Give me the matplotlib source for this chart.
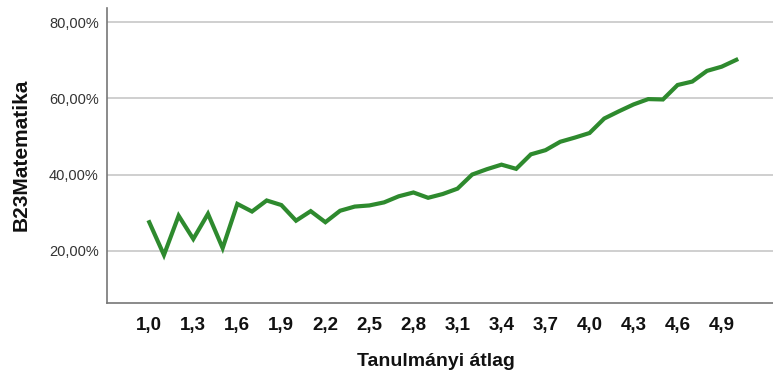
import numpy as np
import matplotlib
matplotlib.use("Agg")
import matplotlib.pyplot as plt
from matplotlib.ticker import FuncFormatter, FixedLocator

plt.rcParams["font.family"] = ["Liberation Sans", "DejaVu Sans"]

# Tanulmányi átlag 1,0 .. 5,0 in 0,1 steps
atlag = [f"{v / 10:.1f}".replace(".", ",") for v in range(10, 51)]
# share of correct answers (%)
matek = [27.5, 18.9, 29.2, 23.1, 29.7, 20.7, 32.3, 30.3, 33.2, 32.0,
         27.9, 30.4, 27.5, 30.5, 31.6, 31.9, 32.7, 34.3, 35.3, 33.9,
         34.9, 36.3, 40.0, 41.4, 42.6, 41.5, 45.3, 46.4, 48.6, 49.7,
         50.9, 54.7, 56.6, 58.4, 59.8, 59.7, 63.5, 64.4, 67.2, 68.3,
         70.1]
y_ticks = [20, 40, 60, 80]

W, H = 773, 376
fig = plt.figure(figsize=(W / 100, H / 100), dpi=100)
ax = fig.add_axes([107 / W, 1 - 303 / H, 1 - 107 / W, (303 - 8) / H])

x = np.arange(len(matek))
ax.plot(x, matek, color="#2e8a2e", linewidth=3.0, solid_joinstyle="miter",
        zorder=3)

ax.set_xlim(-2.88, 42.5)
ax.set_ylim(6.3, 83.7)

ax.xaxis.set_major_locator(FixedLocator(x[::3]))
ax.set_xticklabels(atlag[::3], fontsize=13.5, fontweight="bold",
                   color="#111111")
ax.yaxis.set_major_locator(FixedLocator(y_ticks))
ax.yaxis.set_major_formatter(
    FuncFormatter(lambda v, _: f"{v:.2f}%".replace(".", ",")))
ax.tick_params(axis="y", length=0, pad=6, labelsize=10.5,
               labelcolor="#333333")
ax.tick_params(axis="x", length=0, pad=10)

ax.grid(axis="y", color="#cccccc", linewidth=1.3)
ax.set_axisbelow(True)
for side in ("top", "right"):
    ax.spines[side].set_visible(False)
for side in ("left", "bottom"):
    ax.spines[side].set_color("#777777")
    ax.spines[side].set_linewidth(1.2)

fig.text(21 / W, 1 - 155 / H, "B23Matematika", rotation=90, ha="center",
         va="center", fontsize=15, fontweight="bold", color="#111111")
fig.text(436 / W, 1 - 362 / H, "Tanulmányi átlag", ha="center",
         va="center", fontsize=14, fontweight="bold", color="#111111")

fig.savefig("out.png", dpi=100)
